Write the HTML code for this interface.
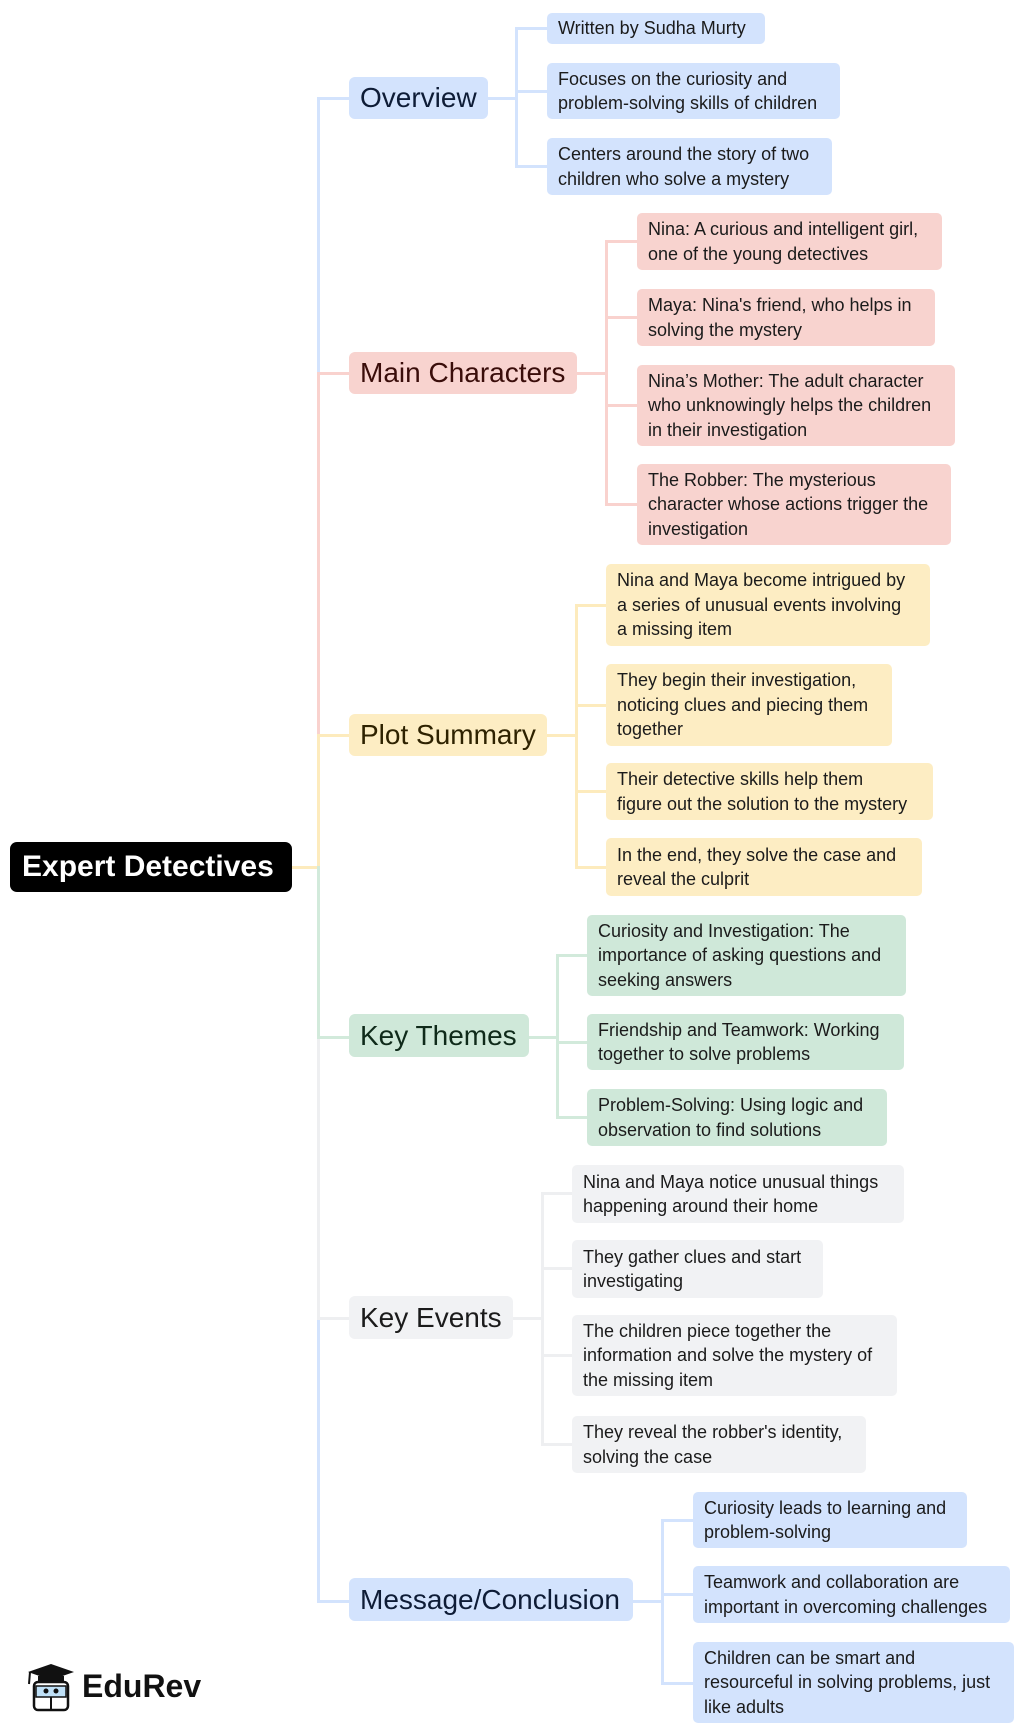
<!DOCTYPE html>
<html><head><meta charset="utf-8"><style>
body{margin:0;width:1024px;height:1734px;background:#fff;position:relative;overflow:hidden;font-family:"Liberation Sans",Arial,sans-serif}
.b{position:absolute;border-radius:5px;box-sizing:border-box;padding-left:11px;display:flex;align-items:center;font-size:18px;line-height:24.5px;color:#1b1b1b;white-space:nowrap}
.l1{position:absolute;border-radius:6px;box-sizing:border-box;padding-left:11px;display:flex;align-items:center;font-size:28px;color:#1b1b1b;white-space:nowrap}
.h,.v{position:absolute}
.h{height:3px}.v{width:3px}
.blue{background:#d3e3fd}.pink{background:#f8d3cf}.yel{background:#fdedc3}.grn{background:#cfe8d9}.gry{background:#f1f2f4}
.cb{background:#d3e3fd}.cp{background:#f9d2ce}.cy{background:#fdebbd}.cg{background:#d2eadb}.cgr{background:#eeeff1}
</style></head><body>

<div style="position:absolute;left:10px;top:842px;width:282px;height:50px;background:#000;border-radius:7px;color:#fff;font-weight:bold;font-size:30px;display:flex;align-items:center;padding-left:12px;box-sizing:border-box;white-space:nowrap">Expert Detectives</div>

<div class="h cy" style="left:292px;top:866px;width:27px"></div>
<div class="v cb" style="left:317px;top:97px;height:277px"></div>
<div class="v cp" style="left:317px;top:372px;height:364px"></div>
<div class="v cy" style="left:317px;top:734px;height:134px"></div>
<div class="v cg" style="left:317px;top:866px;height:172px"></div>
<div class="v cgr" style="left:317px;top:1036px;height:283px"></div>
<div class="v cb" style="left:317px;top:1317px;height:286px"></div>
<div class="h cb" style="left:317px;top:97px;width:33px"></div>
<div class="h cp" style="left:317px;top:372px;width:33px"></div>
<div class="h cy" style="left:317px;top:734px;width:33px"></div>
<div class="h cg" style="left:317px;top:1036px;width:33px"></div>
<div class="h cgr" style="left:317px;top:1317px;width:33px"></div>
<div class="h cb" style="left:317px;top:1600px;width:33px"></div>

<div class="l1 blue" style="left:349px;top:77px;width:139px;height:42px;color:#0e1c36">Overview</div>
<div class="l1 pink" style="left:349px;top:352px;width:228px;height:42px;color:#3a0d0a">Main Characters</div>
<div class="l1 yel" style="left:349px;top:714px;width:198px;height:42px;color:#2e2200">Plot Summary</div>
<div class="l1 grn" style="left:349px;top:1014px;width:180px;height:43px;color:#0f2a1a">Key Themes</div>
<div class="l1 gry" style="left:349px;top:1296px;width:164px;height:43px">Key Events</div>
<div class="l1 blue" style="left:349px;top:1578px;width:284px;height:43px;color:#0e1c36">Message/Conclusion</div>

<div class="h cb" style="left:488px;top:97px;width:29px"></div>
<div class="v cb" style="left:515px;top:27px;height:141px"></div>
<div class="h cb" style="left:515px;top:27px;width:33px"></div>
<div class="h cb" style="left:515px;top:90px;width:33px"></div>
<div class="h cb" style="left:515px;top:165px;width:33px"></div>
<div class="b blue" style="left:547px;top:13px;width:218px;height:31px">Written by Sudha Murty</div>
<div class="b blue" style="left:547px;top:63px;width:293px;height:56px">Focuses on the curiosity and<br>problem-solving skills of children</div>
<div class="b blue" style="left:547px;top:138px;width:285px;height:57px">Centers around the story of two<br>children who solve a mystery</div>

<div class="h cp" style="left:577px;top:372px;width:30px"></div>
<div class="v cp" style="left:605px;top:240px;height:266px"></div>
<div class="h cp" style="left:605px;top:240px;width:33px"></div>
<div class="h cp" style="left:605px;top:316px;width:33px"></div>
<div class="h cp" style="left:605px;top:404px;width:33px"></div>
<div class="h cp" style="left:605px;top:503px;width:33px"></div>
<div class="b pink" style="left:637px;top:213px;width:305px;height:57px">Nina: A curious and intelligent girl,<br>one of the young detectives</div>
<div class="b pink" style="left:637px;top:289px;width:298px;height:57px">Maya: Nina's friend, who helps in<br>solving the mystery</div>
<div class="b pink" style="left:637px;top:365px;width:318px;height:81px">Nina’s Mother: The adult character<br>who unknowingly helps the children<br>in their investigation</div>
<div class="b pink" style="left:637px;top:464px;width:314px;height:81px">The Robber: The mysterious<br>character whose actions trigger the<br>investigation</div>

<div class="h cy" style="left:547px;top:734px;width:30px"></div>
<div class="v cy" style="left:575px;top:604px;height:265px"></div>
<div class="h cy" style="left:575px;top:604px;width:32px"></div>
<div class="h cy" style="left:575px;top:704px;width:32px"></div>
<div class="h cy" style="left:575px;top:790px;width:32px"></div>
<div class="h cy" style="left:575px;top:866px;width:32px"></div>
<div class="b yel" style="left:606px;top:564px;width:324px;height:82px">Nina and Maya become intrigued by<br>a series of unusual events involving<br>a missing item</div>
<div class="b yel" style="left:606px;top:664px;width:286px;height:82px">They begin their investigation,<br>noticing clues and piecing them<br>together</div>
<div class="b yel" style="left:606px;top:763px;width:327px;height:57px">Their detective skills help them<br>figure out the solution to the mystery</div>
<div class="b yel" style="left:606px;top:838px;width:316px;height:58px">In the end, they solve the case and<br>reveal the culprit</div>

<div class="h cg" style="left:529px;top:1036px;width:29px"></div>
<div class="v cg" style="left:556px;top:954px;height:165px"></div>
<div class="h cg" style="left:556px;top:954px;width:32px"></div>
<div class="h cg" style="left:556px;top:1041px;width:32px"></div>
<div class="h cg" style="left:556px;top:1116px;width:32px"></div>
<div class="b grn" style="left:587px;top:915px;width:319px;height:81px">Curiosity and Investigation: The<br>importance of asking questions and<br>seeking answers</div>
<div class="b grn" style="left:587px;top:1014px;width:317px;height:56px">Friendship and Teamwork: Working<br>together to solve problems</div>
<div class="b grn" style="left:587px;top:1089px;width:300px;height:57px">Problem-Solving: Using logic and<br>observation to find solutions</div>

<div class="h cgr" style="left:513px;top:1317px;width:30px"></div>
<div class="v cgr" style="left:541px;top:1192px;height:254px"></div>
<div class="h cgr" style="left:541px;top:1192px;width:32px"></div>
<div class="h cgr" style="left:541px;top:1267px;width:32px"></div>
<div class="h cgr" style="left:541px;top:1354px;width:32px"></div>
<div class="h cgr" style="left:541px;top:1443px;width:32px"></div>
<div class="b gry" style="left:572px;top:1165px;width:332px;height:58px">Nina and Maya notice unusual things<br>happening around their home</div>
<div class="b gry" style="left:572px;top:1240px;width:251px;height:58px">They gather clues and start<br>investigating</div>
<div class="b gry" style="left:572px;top:1315px;width:325px;height:81px">The children piece together the<br>information and solve the mystery of<br>the missing item</div>
<div class="b gry" style="left:572px;top:1416px;width:294px;height:57px">They reveal the robber's identity,<br>solving the case</div>

<div class="h cb" style="left:633px;top:1600px;width:30px"></div>
<div class="v cb" style="left:661px;top:1519px;height:166px"></div>
<div class="h cb" style="left:661px;top:1519px;width:33px"></div>
<div class="h cb" style="left:661px;top:1593px;width:33px"></div>
<div class="h cb" style="left:661px;top:1682px;width:33px"></div>
<div class="b blue" style="left:693px;top:1492px;width:274px;height:56px">Curiosity leads to learning and<br>problem-solving</div>
<div class="b blue" style="left:693px;top:1566px;width:317px;height:57px">Teamwork and collaboration are<br>important in overcoming challenges</div>
<div class="b blue" style="left:693px;top:1642px;width:321px;height:81px">Children can be smart and<br>resourceful in solving problems, just<br>like adults</div>

<svg style="position:absolute;left:24px;top:1662px" width="54" height="52" viewBox="0 0 54 52">
<polygon points="4,10 27,2 50,10 27,18" fill="#111"/>
<rect x="14" y="14" width="26" height="6" fill="#111"/>
<line x1="6" y1="10" x2="5" y2="22" stroke="#111" stroke-width="2"/>
<rect x="10" y="20" width="34" height="28" rx="4" fill="#fff" stroke="#111" stroke-width="2.5"/>
<rect x="12" y="24" width="30" height="11" fill="#bfe0f7" stroke="#111" stroke-width="1.5"/>
<circle cx="22" cy="29" r="2.5" fill="#111"/><circle cx="32" cy="29" r="2.5" fill="#111"/>
<line x1="27" y1="35" x2="27" y2="48" stroke="#111" stroke-width="2"/>
</svg>
<div style="position:absolute;left:82px;top:1668px;font-size:32px;font-weight:bold;color:#111">EduRev</div>

</body></html>
